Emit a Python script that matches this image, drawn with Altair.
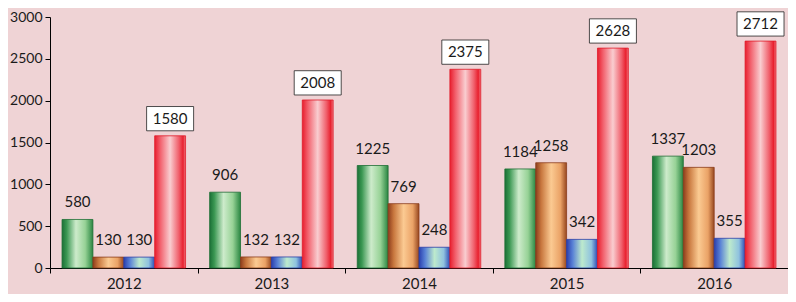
import altair as alt
import pandas as pd

years = ["2012", "2013", "2014", "2015", "2016"]
series = ["s1", "s2", "s3", "s4"]
s1 = [580, 906, 1225, 1184, 1337]
s2 = [130, 132, 769, 1258, 1203]
s3 = [130, 132, 248, 342, 355]
s4 = [1580, 2008, 2375, 2628, 2712]
y_ticks = [0, 500, 1000, 1500, 2000, 2500, 3000]

rows = []
for i, yr in enumerate(years):
    for s, vals in zip(series, [s1, s2, s3, s4]):
        rows.append({"year": yr, "series": s, "value": vals[i]})
df = pd.DataFrame(rows)

FONT = "Lato"


def grad(stops):
    return alt.Gradient(
        gradient="linear", x1=0, x2=1, y1=0, y2=0,
        stops=[alt.GradientStop(offset=o, color=c) for o, c in stops],
    )


grads = [
    grad([(0, "#1b7036"), (0.15, "#3a9752"), (0.45, "#cdebcb"), (0.75, "#97d296"), (1, "#2a8642")]),
    grad([(0, "#8e3d1c"), (0.18, "#c8773e"), (0.5, "#fbca92"), (0.8, "#eaa266"), (1, "#97471f")]),
    grad([(0, "#2a3fae"), (0.2, "#5a82d6"), (0.5, "#bdeacd"), (0.8, "#8fc2df"), (1, "#2e4cb6")]),
    grad([(0, "#e81e2e"), (0.18, "#f2606c"), (0.5, "#f9cdd0"), (0.78, "#f0606c"), (0.92, "#e8202e"), (1, "#f07880")]),
]
strokes = ["#1e6e35", "#8a3c1c", "#2a3fa8", "#e01c2a"]

x = alt.X(
    "year:N",
    scale=alt.Scale(paddingInner=0, paddingOuter=0),
    axis=alt.Axis(title=None, labelAngle=0, tickBand="extent", labelPadding=3),
)
xo = alt.XOffset("series:N", scale=alt.Scale(domain=series, paddingInner=0, paddingOuter=0.39))
yscale = alt.Scale(domain=[0, 3000], nice=False)
yaxis = alt.Axis(values=y_ticks, title=None, grid=False, labelPadding=3, format="d")
yenc = alt.Y("value:Q", scale=yscale, axis=yaxis)

base = alt.Chart(df)
layers = []
for s, g, st in zip(series, grads, strokes):
    layers.append(
        base.transform_filter(alt.datum.series == s)
        .mark_bar(color=g, stroke=st, strokeWidth=0.8)
        .encode(x=x, xOffset=xo, y=yenc)
    )

labels = (
    base.transform_filter(alt.datum.series != "s4")
    .mark_text(baseline="bottom", dy=-9, fontSize=15, font=FONT, color="#1a1a1a")
    .encode(x=x, xOffset=xo, y=yenc, text="value:Q")
)

box = (
    base.transform_filter(alt.datum.series == "s4")
    .transform_calculate(b="datum.value + 60", t="datum.value + 350")
    .mark_bar(width=47, color="white", stroke="#222222", strokeWidth=0.8)
    .encode(x=x, xOffset=xo, y=alt.Y("b:Q", scale=yscale, axis=yaxis), y2="t:Q")
)
box_text = (
    base.transform_filter(alt.datum.series == "s4")
    .transform_calculate(m="datum.value + 205")
    .mark_text(baseline="middle", fontSize=15, font=FONT, color="#1a1a1a")
    .encode(x=x, xOffset=xo, y=alt.Y("m:Q", scale=yscale, axis=yaxis), text="value:Q")
)

chart = (
    alt.layer(*layers, labels, box, box_text)
    .properties(
        width=738,
        height=251,
        autosize=alt.AutoSizeParams(type="none"),
        padding={"left": 42, "top": 9, "right": 0, "bottom": 26},
        background="#efd3d5",
    )
    .configure_view(stroke=None)
    .configure_axis(
        labelFont=FONT, labelFontSize=15, labelColor="#1a1a1a",
        domainColor="#000000", tickColor="#000000", tickSize=5,
        domainWidth=1, tickWidth=1,
    )
    .configure_axisY(labelFontSize=14)
)

chart.save("out.html", embed_options={"renderer": "svg", "actions": False})
